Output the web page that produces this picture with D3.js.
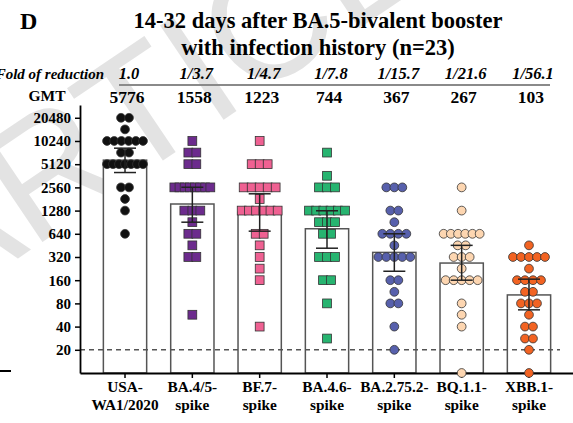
<!DOCTYPE html>
<html>
<head>
<meta charset="utf-8">
<script src="https://cdn.jsdelivr.net/npm/d3@7"></script>
<style>
body{margin:0;background:#fff}
svg text{font-family:"Liberation Serif","Times New Roman",serif;font-weight:bold}
</style>
</head>
<body>
<svg id="grafica"></svg>
<script>
const svg_w = 573; // ancho del svg
const svg_h = 423; // alto del svg

// márgenes del área de la gráfica
const margin = {l:80, r:0, t:105, b:50}
const base_y = svg_h - margin.b; // línea del eje x

// datos de la figura
const categorias = ["USA-WA1/2020","BA.4/5-spike","BF.7-spike","BA.4.6-spike","BA.2.75.2-spike","BQ.1.1-spike","XBB.1-spike"];
const etiquetas = [["USA-","WA1/2020"],["BA.4/5-","spike"],["BF.7-","spike"],["BA.4.6-","spike"],["BA.2.75.2-","spike"],["BQ.1.1-","spike"],["XBB.1-","spike"]];
const reduccion = ["1.0","1/3.7","1/4.7","1/7.8","1/15.7","1/21.6","1/56.1"];
const gmt = [5776,1558,1223,744,367,267,103];
const err_bajo = [3990,905,692,416,209,160,66];
const err_alto = [8260,2570,2114,1273,640,453,165];
const y_ticks = [20,40,80,160,320,640,1280,2560,5120,10240,20480];
const colores = ["#111111","#6c2b8d","#ef6192","#27b470","#5760ac","#fdd6b1","#f26322"];
const formas = ["circle","square","square","square","circle","circle","circle"];

// títulos por individuo (n=23 por grupo)
const usa = [20480,20480,14480,10240,10240,10240,10240,10240,10240,7240,7240,5120,5120,5120,5120,5120,5120,5120,2560,2560,1810,1280,640];
const ba45 = [10240,7240,7240,5120,5120,2560,2560,2560,2560,2560,2560,2560,2560,1280,1280,1280,905,640,640,453,320,320,57];
const bf7 = [10240,5120,5120,5120,2560,2560,2560,2560,2560,1810,1280,1280,1280,1280,1280,1280,640,640,453,320,226,160,40];
const ba46 = [7240,3620,2560,2560,2560,1280,1280,1280,1280,1280,1280,905,905,905,640,640,320,320,320,160,160,80,28];
const ba2752 = [2560,2560,2560,1280,1280,905,640,640,640,640,453,320,320,320,320,320,160,160,113,80,80,40,20];
const bq11 = [2560,1280,640,640,640,640,640,640,453,453,320,320,320,226,160,160,160,160,160,80,57,40,10];
const xbb1 = [453,320,320,320,320,320,226,160,160,160,160,113,113,80,80,80,57,40,40,28,28,20,10];
const valores = [usa, ba45, bf7, ba46, ba2752, bq11, xbb1];

let svg = d3.select("#grafica")
  .attr("width", svg_w)
  .attr("height", svg_h)

// marca de agua de fondo
svg.append("text")
  .attr("transform","translate(-60,311) rotate(-34)")
  .attr("font-size",165)
  .style("font-family","'Liberation Sans',Arial,sans-serif")
  .style("font-weight","normal")
  .attr("fill","#e3e3e3")
  .text("ARTICLE")

// escalas
let y_scale = d3.scaleLog().base(2)
  .domain([10, 30000])
  .range([base_y, margin.t])

let x_scale = d3.scaleBand()
  .domain(categorias)
  .range([margin.l, 574])
  .paddingInner(0.357)
  .paddingOuter(0.347)

const bw = x_scale.bandwidth();
const cx = c => x_scale(c) + bw/2;

// títulos
svg.append("text").attr("x",20).attr("y",29).attr("font-size",24).text("D")
svg.append("text").attr("x",318).attr("y",28).attr("font-size",22.5).attr("text-anchor","middle")
  .text("14-32 days after BA.5-bivalent booster")
svg.append("text").attr("x",318).attr("y",55).attr("font-size",22.5).attr("text-anchor","middle")
  .text("with infection history (n=23)")

// fila de reducción
svg.append("text").attr("x",104).attr("y",79).attr("font-size",15).attr("text-anchor","end")
  .style("font-style","italic").text("Fold of reduction")
svg.append("g").selectAll("text")
  .data(reduccion)
  .enter()
  .append("text")
  .attr("x",(d,i)=>cx(categorias[i])+4)
  .attr("y",79)
  .attr("font-size",16.5)
  .attr("text-anchor","middle")
  .style("font-style","italic")
  .text(d=>d)
svg.append("line")
  .attr("x1",119).attr("x2",550).attr("y1",85).attr("y2",85)
  .attr("stroke","#8a8a8a").attr("stroke-width",2)

// fila de GMT
svg.append("text").attr("x",47).attr("y",101).attr("font-size",15.5).attr("text-anchor","middle").text("GMT")
svg.append("g").selectAll("text")
  .data(gmt)
  .enter()
  .append("text")
  .attr("x",(d,i)=>cx(categorias[i])+2)
  .attr("y",103)
  .attr("font-size",17.5)
  .attr("text-anchor","middle")
  .text(d=>d)

// barras con la GMT
svg.append("g")
  .selectAll("rect")
  .data(gmt)
  .enter()
  .append("rect")
  .attr("x",(d,i)=>x_scale(categorias[i]))
  .attr("y",d=>y_scale(d))
  .attr("width",bw)
  .attr("height",d=>base_y-y_scale(d))
  .attr("fill","white")
  .attr("stroke","#555")
  .attr("stroke-width",1.5)

// límite de detección
svg.append("line")
  .attr("x1",margin.l).attr("x2",560)
  .attr("y1",y_scale(20)).attr("y2",y_scale(20))
  .attr("stroke","#555").attr("stroke-width",1.4)
  .attr("stroke-dasharray","5,4")

// eje y
let eje_y = svg.append("g")
  .attr("transform",`translate(${margin.l},0)`)
  .call(d3.axisLeft(y_scale).tickValues(y_ticks).tickFormat(d3.format("d")).tickSize(5).tickSizeOuter(0).tickPadding(4))
eje_y.attr("font-family",null).attr("font-size",null)
eje_y.select(".domain").attr("stroke-width",1.8)
eje_y.selectAll(".tick line").attr("stroke-width",1.5)
eje_y.selectAll(".tick text").attr("font-size",15)

// eje x
let eje_x = svg.append("g")
  .attr("transform",`translate(0,${base_y})`)
  .call(d3.axisBottom(x_scale).tickSize(5).tickSizeOuter(0))
eje_x.attr("font-family",null).attr("font-size",null)
eje_x.select(".domain").attr("stroke-width",1.8)
eje_x.selectAll(".tick line").attr("stroke-width",1.5)
eje_x.selectAll(".tick text").remove()
eje_x.selectAll(".tick").each(function(d,i){
  let t = d3.select(this).append("text")
    .attr("fill","black")
    .attr("font-size",15.3)
    .attr("text-anchor","middle")
  t.append("tspan").attr("x",0).attr("y",19).text(etiquetas[i][0])
  t.append("tspan").attr("x",0).attr("y",36.5).text(etiquetas[i][1])
})

// puntos individuales, en filas tipo enjambre
valores.forEach((vals,i) => {
  let filas = d3.groups(vals, v=>v);
  let puntos = [];
  filas.forEach(([v,arr]) => {
    let n = arr.length;
    let paso = n>1 ? Math.min(8, 36/(n-1)) : 0;
    arr.forEach((a,k) => puntos.push({v:v, dx:(k-(n-1)/2)*paso}));
  });
  let g = svg.append("g")
    .selectAll("g")
    .data(puntos)
    .enter()
    .append("g")
    .attr("transform",d=>`translate(${cx(categorias[i])+d.dx},${y_scale(d.v)})`)
  if (formas[i]=="circle") {
    g.append("circle")
      .attr("r",4.4)
      .attr("fill",colores[i])
      .attr("stroke","#333")
      .attr("stroke-width",0.8)
  } else {
    g.append("rect")
      .attr("x",-4.4).attr("y",-4.4)
      .attr("width",8.8).attr("height",8.8)
      .attr("fill",colores[i])
      .attr("stroke","#333")
      .attr("stroke-width",0.8)
  }
});

// barras de error
let err = svg.append("g")
  .selectAll("g")
  .data(categorias)
  .enter()
  .append("g")
  .attr("transform",d=>`translate(${cx(d)},0)`)
err.append("line")
  .attr("y1",(d,i)=>y_scale(err_bajo[i]))
  .attr("y2",(d,i)=>y_scale(err_alto[i]))
  .attr("stroke","#222").attr("stroke-width",1.5)
err.append("line")
  .attr("x1",-11).attr("x2",11)
  .attr("y1",(d,i)=>y_scale(err_bajo[i])).attr("y2",(d,i)=>y_scale(err_bajo[i]))
  .attr("stroke","#222").attr("stroke-width",1.5)
err.append("line")
  .attr("x1",-11).attr("x2",11)
  .attr("y1",(d,i)=>y_scale(err_alto[i])).attr("y2",(d,i)=>y_scale(err_alto[i]))
  .attr("stroke","#222").attr("stroke-width",1.5)

// trazo suelto del panel vecino
svg.append("line")
  .attr("x1",0).attr("x2",11).attr("y1",371).attr("y2",371)
  .attr("stroke","black").attr("stroke-width",2)
</script>
</body>
</html>
